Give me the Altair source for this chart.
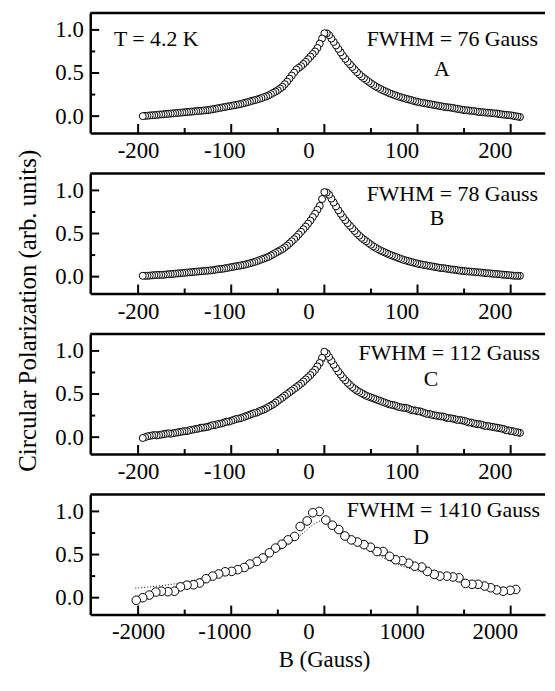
import altair as alt
import pandas as pd

FONT = "Liberation Serif"

# ---- data ----
B_GRID = [-195.0, -192.5, -190.0, -187.5, -185.0, -182.5, -180.0, -177.5, -175.0, -172.5,
          -170.0, -167.5, -165.0, -162.5, -160.0, -157.5, -155.0, -152.5, -150.0, -147.5,
          -145.0, -142.5, -140.0, -137.5, -135.0, -132.5, -130.0, -127.5, -125.0, -122.5,
          -120.0, -117.5, -115.0, -112.5, -110.0, -107.5, -105.0, -102.5, -100.0, -97.5,
          -95.0, -92.5, -90.0, -87.5, -85.0, -82.5, -80.0, -77.5, -75.0, -72.5,
          -70.0, -67.5, -65.0, -62.5, -60.0, -57.5, -55.0, -52.5, -50.0, -47.5,
          -45.0, -42.5, -40.0, -37.5, -35.0, -32.5, -30.0, -27.5, -25.0, -22.5,
          -20.0, -17.5, -15.0, -12.5, -10.0, -7.5, -5.0, -2.5, 0.0, 2.5,
          5.0, 7.5, 10.0, 12.5, 15.0, 17.5, 20.0, 22.5, 25.0, 27.5,
          30.0, 32.5, 35.0, 37.5, 40.0, 42.5, 45.0, 47.5, 50.0, 52.5,
          55.0, 57.5, 60.0, 62.5, 65.0, 67.5, 70.0, 72.5, 75.0, 77.5,
          80.0, 82.5, 85.0, 87.5, 90.0, 92.5, 95.0, 97.5, 100.0, 102.5,
          105.0, 107.5, 110.0, 112.5, 115.0, 117.5, 120.0, 122.5, 125.0, 127.5,
          130.0, 132.5, 135.0, 137.5, 140.0, 142.5, 145.0, 147.5, 150.0, 152.5,
          155.0, 157.5, 160.0, 162.5, 165.0, 167.5, 170.0, 172.5, 175.0, 177.5,
          180.0, 182.5, 185.0, 187.5, 190.0, 192.5, 195.0, 197.5, 200.0, 202.5,
          205.0, 207.5, 210.0]

POL_A = [0.000, 0.003, 0.005, 0.008, 0.010, 0.012, 0.015, 0.018, 0.020, 0.022,
         0.025, 0.028, 0.030, 0.032, 0.035, 0.038, 0.040, 0.042, 0.045, 0.048,
         0.050, 0.052, 0.055, 0.058, 0.060, 0.062, 0.065, 0.068, 0.070, 0.075,
         0.080, 0.085, 0.090, 0.095, 0.100, 0.105, 0.110, 0.115, 0.120, 0.125,
         0.130, 0.135, 0.140, 0.148, 0.155, 0.162, 0.170, 0.178, 0.185, 0.192,
         0.200, 0.210, 0.220, 0.230, 0.240, 0.255, 0.270, 0.285, 0.300, 0.320,
         0.340, 0.370, 0.400, 0.435, 0.470, 0.505, 0.540, 0.560, 0.580, 0.605,
         0.630, 0.660, 0.690, 0.720, 0.750, 0.790, 0.840, 0.900, 0.960, 0.960,
         0.940, 0.900, 0.860, 0.820, 0.780, 0.740, 0.700, 0.665, 0.630, 0.600,
         0.570, 0.540, 0.510, 0.485, 0.460, 0.440, 0.420, 0.400, 0.380, 0.362,
         0.345, 0.330, 0.315, 0.302, 0.290, 0.278, 0.265, 0.255, 0.245, 0.235,
         0.225, 0.218, 0.210, 0.202, 0.195, 0.188, 0.180, 0.172, 0.165, 0.160,
         0.155, 0.150, 0.145, 0.140, 0.135, 0.130, 0.125, 0.120, 0.115, 0.110,
         0.105, 0.102, 0.100, 0.095, 0.090, 0.085, 0.080, 0.075, 0.070, 0.068,
         0.065, 0.062, 0.060, 0.055, 0.050, 0.048, 0.045, 0.042, 0.040, 0.038,
         0.035, 0.032, 0.030, 0.025, 0.020, 0.018, 0.015, 0.012, 0.010, 0.005,
         0.000, -0.005, -0.010]

POL_B = [0.010, 0.010, 0.010, 0.012, 0.015, 0.018, 0.020, 0.020, 0.020, 0.022,
         0.025, 0.028, 0.030, 0.032, 0.035, 0.038, 0.040, 0.042, 0.045, 0.048,
         0.050, 0.052, 0.055, 0.058, 0.060, 0.062, 0.065, 0.068, 0.070, 0.072,
         0.075, 0.080, 0.085, 0.088, 0.090, 0.095, 0.100, 0.105, 0.110, 0.115,
         0.120, 0.125, 0.130, 0.135, 0.140, 0.148, 0.155, 0.162, 0.170, 0.180,
         0.190, 0.200, 0.210, 0.220, 0.230, 0.245, 0.260, 0.275, 0.290, 0.305,
         0.320, 0.340, 0.360, 0.385, 0.410, 0.435, 0.460, 0.490, 0.520, 0.550,
         0.580, 0.615, 0.650, 0.690, 0.730, 0.775, 0.820, 0.900, 0.980, 0.975,
         0.950, 0.905, 0.860, 0.815, 0.770, 0.730, 0.690, 0.655, 0.620, 0.590,
         0.560, 0.530, 0.500, 0.475, 0.450, 0.430, 0.410, 0.390, 0.370, 0.352,
         0.335, 0.320, 0.305, 0.292, 0.280, 0.268, 0.255, 0.245, 0.235, 0.225,
         0.215, 0.205, 0.195, 0.188, 0.180, 0.172, 0.165, 0.158, 0.150, 0.145,
         0.140, 0.135, 0.130, 0.125, 0.120, 0.115, 0.110, 0.105, 0.100, 0.098,
         0.095, 0.090, 0.085, 0.082, 0.080, 0.075, 0.070, 0.068, 0.065, 0.062,
         0.060, 0.058, 0.055, 0.052, 0.050, 0.048, 0.045, 0.042, 0.040, 0.038,
         0.035, 0.032, 0.030, 0.028, 0.025, 0.022, 0.020, 0.018, 0.015, 0.012,
         0.010, 0.010, 0.010]

POL_C = [-0.010, 0.000, 0.010, 0.015, 0.020, 0.025, 0.020, 0.025, 0.030, 0.035,
         0.040, 0.045, 0.040, 0.045, 0.050, 0.055, 0.060, 0.065, 0.070, 0.070,
         0.080, 0.085, 0.090, 0.095, 0.100, 0.110, 0.110, 0.115, 0.120, 0.130,
         0.140, 0.140, 0.150, 0.155, 0.160, 0.170, 0.180, 0.180, 0.190, 0.200,
         0.210, 0.215, 0.220, 0.230, 0.240, 0.250, 0.260, 0.270, 0.280, 0.285,
         0.300, 0.310, 0.320, 0.335, 0.350, 0.365, 0.380, 0.400, 0.420, 0.440,
         0.460, 0.480, 0.500, 0.520, 0.540, 0.560, 0.580, 0.600, 0.620, 0.645,
         0.670, 0.695, 0.720, 0.750, 0.780, 0.820, 0.860, 0.920, 0.990, 0.970,
         0.930, 0.885, 0.840, 0.800, 0.760, 0.725, 0.690, 0.660, 0.630, 0.605,
         0.580, 0.560, 0.540, 0.525, 0.510, 0.495, 0.480, 0.470, 0.460, 0.450,
         0.440, 0.430, 0.420, 0.410, 0.400, 0.390, 0.380, 0.375, 0.370, 0.360,
         0.350, 0.345, 0.340, 0.340, 0.330, 0.320, 0.310, 0.310, 0.300, 0.300,
         0.290, 0.280, 0.270, 0.270, 0.260, 0.255, 0.250, 0.245, 0.240, 0.240,
         0.230, 0.220, 0.220, 0.215, 0.210, 0.200, 0.200, 0.195, 0.190, 0.180,
         0.170, 0.170, 0.160, 0.155, 0.150, 0.150, 0.140, 0.130, 0.130, 0.125,
         0.120, 0.115, 0.110, 0.105, 0.100, 0.095, 0.080, 0.080, 0.070, 0.070,
         0.060, 0.055, 0.050]

FIT_C_B = [-195, -150, -100, -60, -30, -10, 0, 10, 30, 60, 100, 150, 210]
FIT_C_V = [0.00, 0.07, 0.19, 0.35, 0.58, 0.80, 0.88, 0.82, 0.58, 0.42, 0.30, 0.19, 0.05]

B_D = [-2020, -1950, -1880, -1810, -1750, -1680, -1610, -1545, -1475, -1405,
       -1340, -1270, -1200, -1135, -1065, -995, -930, -860, -800, -725,
       -660, -590, -525, -455, -390, -320, -260, -185, -125, -55,
       15, 85, 155, 220, 290, 355, 425, 495, 565, 630,
       700, 765, 835, 905, 970, 1045, 1105, 1180, 1240, 1315,
       1380, 1445, 1515, 1585, 1650, 1720, 1785, 1850, 1920, 1995,
       2055]
POL_D = [-0.03, 0.0, 0.03, 0.065, 0.075, 0.07, 0.075, 0.125, 0.145, 0.15,
         0.17, 0.22, 0.25, 0.275, 0.30, 0.305, 0.325, 0.35, 0.39, 0.42,
         0.46, 0.52, 0.575, 0.62, 0.67, 0.71, 0.825, 0.89, 0.985, 1.0,
         0.90, 0.84, 0.79, 0.715, 0.67, 0.645, 0.615, 0.585, 0.535, 0.535,
         0.48, 0.44, 0.43, 0.40, 0.365, 0.355, 0.305, 0.27, 0.25, 0.25,
         0.24, 0.23, 0.165, 0.155, 0.155, 0.135, 0.115, 0.09, 0.075, 0.085,
         0.095]

FIT_D_B = [-2030, -1750, -1500, -1250, -1000, -800, -600, -400, -250, -100,
           0, 100, 250, 400, 600, 800, 1000, 1250, 1500, 1750, 2050]
FIT_D_V = [0.11, 0.14, 0.18, 0.24, 0.31, 0.38, 0.48, 0.61, 0.73, 0.86,
           0.90, 0.86, 0.73, 0.61, 0.48, 0.38, 0.31, 0.24, 0.18, 0.14, 0.11]

X_MAJOR = [-200, -100, 0, 100, 200]
X_MINOR = [-150, -50, 50, 150]
Y_MAJOR = [0.0, 0.5, 1.0]
Y_MINOR = [0.25, 0.75]

W, H = 459, 121
Y_DOM = [-0.195, 1.195]


def build(use_array_cond=True):
    def panel(b, pol, scale, fwhm_text, letter, fwhm_y, letter_y, fwhm_x,
              letter_x, fit_b=None, fit_v=None, size=50, extra_text=None,
              ytitle=None, xtitle=None):
        xs = alt.Scale(domain=[-251.4 * scale, 236.9 * scale], nice=False, zero=False)
        ys = alt.Scale(domain=Y_DOM, nice=False, zero=False)
        if use_array_cond:
            loff = {"condition": [
                {"test": f"datum.value <= {-150 * scale}", "value": 0},
                {"test": "datum.value < 0", "value": -7}],
                "value": -16}
        else:
            loff = {"condition": {"test": f"datum.value <= {-150 * scale}", "value": 0},
                    "value": -13}
        xaxis_kw = dict(values=[v * scale for v in X_MAJOR], ticks=False,
                        domainWidth=2.5, domainColor="black",
                        labelFont=FONT, labelFontSize=23, labelColor="black",
                        labelPadding=6 if xtitle else 7, labelOffset=loff, grid=False,
                        labelFlush=False, labelOverlap=False,
                        labelExpr="datum.value < 0 ? '-' + abs(datum.value) : '' + datum.value")
        if xtitle:
            xaxis = alt.Axis(title=xtitle, titleFont=FONT, titleFontSize=23,
                             titleFontWeight="normal", titleColor="black",
                             titleX=236, titleY=53, titleAlign="center",
                             titleBaseline="alphabetic", **xaxis_kw)
        else:
            xaxis = alt.Axis(title=None, **xaxis_kw)
        yaxis_kw = dict(values=Y_MAJOR, format=".1f", ticks=False,
                        domainWidth=2.5, domainColor="black",
                        labelFont=FONT, labelFontSize=23, labelColor="black",
                        labelPadding=7, grid=False, labelFlush=False,
                        labelOverlap=False, labelBaseline="middle")
        if ytitle:
            yaxis = alt.Axis(title=ytitle, titleFont=FONT, titleFontSize=25,
                             titleFontWeight="normal", titleColor="black",
                             titleAngle=270, titleX=-55, titleY=138,
                             titleAlign="center", titleBaseline="alphabetic",
                             **yaxis_kw)
        else:
            yaxis = alt.Axis(title=None, **yaxis_kw)

        def X(field):
            return alt.X(field, scale=xs, axis=xaxis)

        def Y(field):
            return alt.Y(field, scale=ys, axis=yaxis)

        df = pd.DataFrame({"B": b, "P": pol})
        pts = alt.Chart(df).mark_circle(size=size, color="white", stroke="black",
                                        strokeWidth=1, opacity=1).encode(
            x=X("B:Q"), y=Y("P:Q"),
            order=alt.Order("B:Q", sort="descending"),
        )
        layers = []
        if fit_b is not None:
            fdf = pd.DataFrame({"B": fit_b, "P": fit_v})
            layers.append(alt.Chart(fdf).mark_line(
                color="black", strokeWidth=1, strokeDash=[1, 2], interpolate="monotone").encode(
                x=X("B:Q"), y=Y("P:Q")))
        layers.append(pts)

        one = pd.DataFrame({"a": [0]})
        xmaj = pd.DataFrame({"B": [v * scale for v in X_MAJOR]})
        xmin = pd.DataFrame({"B": [v * scale for v in X_MINOR]})
        ymaj = pd.DataFrame({"P": Y_MAJOR})
        ymin = pd.DataFrame({"P": Y_MINOR})
        layers.append(alt.Chart(xmaj).mark_rule(color="black", strokeWidth=2).encode(
            x=X("B:Q"), y=alt.value(H), y2=alt.value(H - 9)))
        layers.append(alt.Chart(xmin).mark_rule(color="black", strokeWidth=2).encode(
            x=X("B:Q"), y=alt.value(H), y2=alt.value(H - 5)))
        layers.append(alt.Chart(ymaj).mark_rule(color="black", strokeWidth=2).encode(
            y=Y("P:Q"), x=alt.value(0), x2=alt.value(9)))
        layers.append(alt.Chart(ymin).mark_rule(color="black", strokeWidth=2).encode(
            y=Y("P:Q"), x=alt.value(0), x2=alt.value(5)))
        layers.append(alt.Chart(one).mark_rule(color="black", strokeWidth=2.5).encode(
            x=alt.value(0), x2=alt.value(W), y=alt.value(0)))
        layers.append(alt.Chart(one).mark_text(
            text=fwhm_text, font=FONT, fontSize=22, align="right",
            baseline="alphabetic", color="black").encode(
            x=alt.value(fwhm_x), y=alt.value(fwhm_y)))
        layers.append(alt.Chart(one).mark_text(
            text=letter, font=FONT, fontSize=22, align="center",
            baseline="alphabetic", color="black").encode(
            x=alt.value(letter_x), y=alt.value(letter_y)))
        if extra_text:
            layers.append(alt.Chart(one).mark_text(
                text=extra_text, font=FONT, fontSize=22, align="left",
                baseline="alphabetic", color="black").encode(
                x=alt.value(24), y=alt.value(33)))
        return alt.layer(*layers).properties(width=W, height=H)

    pA = panel(B_GRID, POL_A, 1, "FWHM = 76 Gauss", "A", 33, 64, 452, 355,
               extra_text="T = 4.2 K")
    pB = panel(B_GRID, POL_B, 1, "FWHM = 78 Gauss", "B", 28, 52, 452, 350,
               ytitle="Circular Polarization (arb. units)")
    pC = panel(B_GRID, POL_C, 1, "FWHM = 112 Gauss", "C", 26, 52, 454, 344,
               fit_b=FIT_C_B, fit_v=FIT_C_V)
    pD = panel(B_D, POL_D, 10, "FWHM = 1410 Gauss", "D", 23, 50, 454, 334,
               fit_b=FIT_D_B, fit_v=FIT_D_V, size=75, xtitle="B (Gauss)")

    ch = alt.vconcat(pA, pB, pC, pD, spacing=41, bounds="flush").configure_view(
        stroke=None).properties(padding={"left": 7, "top": 0, "right": 0, "bottom": 5})
    return ch


try:
    chart = build(True)
    chart.to_dict()
except Exception:
    chart = build(False)

chart.save("out.html", embed_options={"renderer": "svg", "actions": False})
